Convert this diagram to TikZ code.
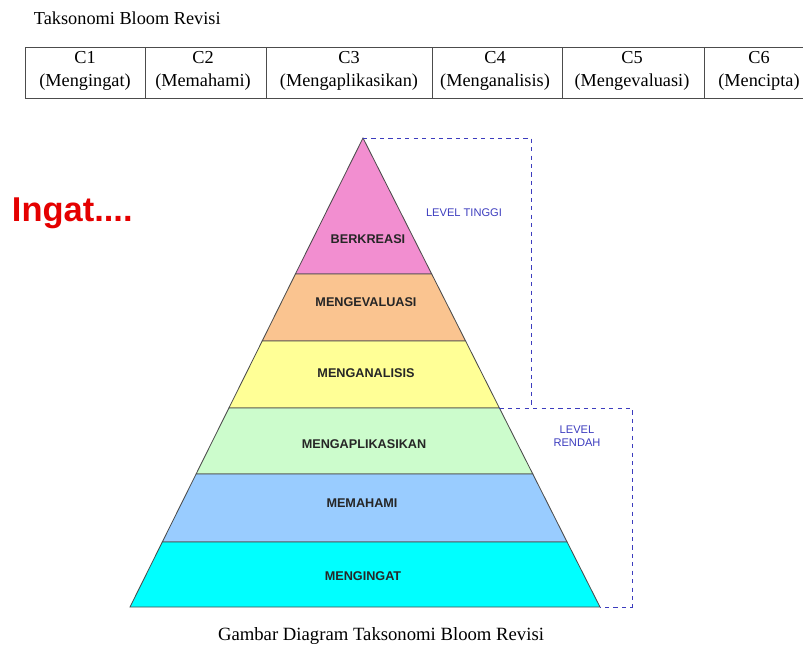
\documentclass[tikz,border=0pt]{standalone}
\usepackage{fontspec}
\setmainfont{Liberation Serif}
\setsansfont{Liberation Sans}
\usepackage{tikz}

\definecolor{kreasi}{RGB}{242,142,208}
\definecolor{evaluasi}{RGB}{250,196,144}
\definecolor{analisis}{RGB}{255,255,150}
\definecolor{aplikasi}{RGB}{204,252,204}
\definecolor{paham}{RGB}{153,204,255}
\definecolor{ingat}{RGB}{0,255,255}
\definecolor{levelblue}{RGB}{60,60,190}
\definecolor{ingatred}{RGB}{228,0,0}

\begin{document}
\begin{tikzpicture}[x=0.025cm, y=-0.025cm,
        layer/.style={draw=black!70, line width=0.6pt},
        lvl/.style={draw=levelblue, dash pattern=on 3pt off 3pt, line width=0.6pt},
        tag/.style={font=\sffamily\bfseries\fontsize{9}{10}\selectfont, text=black!85},
        lvltext/.style={font=\sffamily\fontsize{7.9}{9.5}\selectfont, text=levelblue, align=center},
        cell/.style={font=\fontsize{13}{15}\selectfont}]
        \useasboundingbox (0,0) rectangle (803,645);

        \node[font=\fontsize{13}{16}\selectfont, anchor=west] (judul) at (29,18) {Taksonomi Bloom Revisi};

        \draw[black!70, line width=0.7pt] (803,47) -- (25,47) -- (25,98) -- (803,98);
        \foreach \x in {145, 266, 432, 562, 704}
                \draw[black!70, line width=0.7pt] (\x,47) -- (\x,98);
        \node[cell] (c1) at (85,58) {C1};
        \node[cell] (c2) at (203,58) {C2};
        \node[cell] (c3) at (349,58) {C3};
        \node[cell] (c4) at (495,58) {C4};
        \node[cell] (c5) at (632,58) {C5};
        \node[cell] (c6) at (759,58) {C6};
        \node[cell] (p1) at (85,82) {(Mengingat)};
        \node[cell] (p2) at (203,82) {(Memahami)};
        \node[cell] (p3) at (349,82) {(Mengaplikasikan)};
        \node[cell] (p4) at (495,82) {(Menganalisis)};
        \node[cell] (p5) at (632,82) {(Mengevaluasi)};
        \node[cell] (p6) at (759,82) {(Mencipta)};

        \node[font=\sffamily\bfseries\fontsize{24.5}{28}\selectfont, text=ingatred, anchor=west] (ingat) at (7,213) {Ingat....};

        \coordinate (apex) at (363,138);
        \coordinate (bl) at (130,607);
        \coordinate (br) at (600,607);

        \draw[layer, fill=kreasi] (apex) -- (431.7,274) -- (295.4,274) -- cycle;
        \draw[layer, fill=evaluasi] (295.4,274) -- (431.7,274) -- (465.6,341) -- (262.2,341) -- cycle;
        \draw[layer, fill=analisis] (262.2,341) -- (465.6,341) -- (499.4,408) -- (228.9,408) -- cycle;
        \draw[layer, fill=aplikasi] (228.9,408) -- (499.4,408) -- (532.8,474) -- (196.1,474) -- cycle;
        \draw[layer, fill=paham] (196.1,474) -- (532.8,474) -- (567.1,542) -- (162.3,542) -- cycle;
        \draw[layer, fill=ingat] (162.3,542) -- (567.1,542) -- (br) -- (bl) -- cycle;

        \node[tag] (berkreasi) at (368,239) {BERKREASI};
        \node[tag] (mengevaluasi) at (366,302) {MENGEVALUASI};
        \node[tag] (menganalisis) at (366,373) {MENGANALISIS};
        \node[tag] (mengaplikasikan) at (364,444) {MENGAPLIKASIKAN};
        \node[tag] (memahami) at (362,503) {MEMAHAMI};
        \node[tag] (mengingat) at (363,576) {MENGINGAT};

        \coordinate (tinggi1) at (531,138);
        \coordinate (tinggi2) at (531,408);
        \coordinate (rendah0) at (499.4,408);
        \coordinate (rendah1) at (632,408);
        \coordinate (rendah2) at (632,607);
        \draw[lvl] (apex) -- (tinggi1) -- (tinggi2);
        \draw[lvl] (rendah0) -- (rendah1) -- (rendah2) -- (br);
        \node[lvltext] (tinggi) at (464,213) {LEVEL TINGGI};
        \node[lvltext] (rendah) at (577,436) {LEVEL\\RENDAH};

        \node[font=\fontsize{13.3}{16}\selectfont] (gambar) at (381,636) {Gambar Diagram Taksonomi Bloom Revisi};
\end{tikzpicture}
\end{document}
